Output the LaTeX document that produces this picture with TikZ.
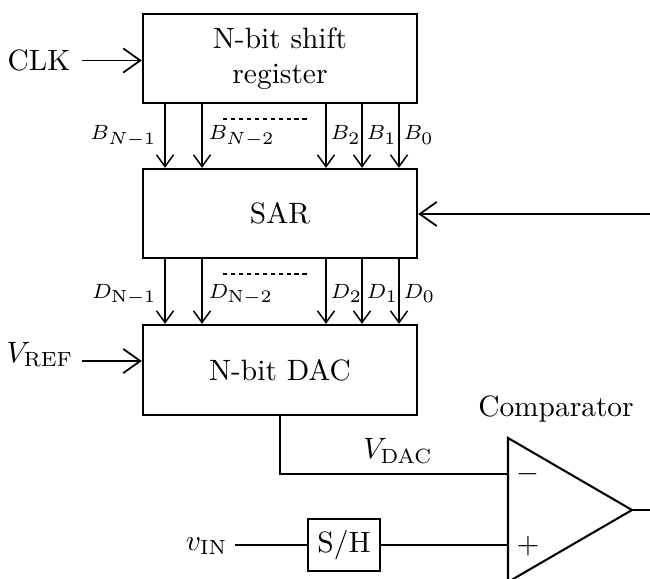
\documentclass[tikz,border=0pt]{standalone}
\usetikzlibrary{arrows.meta}
\DeclareMathSizes{7}{7}{6}{5}
\begin{document}
\begin{tikzpicture}[x=0.34pt,y=-0.34pt,
  blk/.style={draw, line width=0.8pt, inner sep=0pt, align=center},
  wire/.style={line width=0.4pt},
  bigarr/.style={wire, -{Straight Barb[length=5.8pt,width=8.2pt,line width=0.6pt]}},
  bitarr/.style={wire, -{Straight Barb[length=4pt,width=5.8pt,line width=0.5pt]}},
  lbl/.style={font=\scriptsize, inner sep=1pt},
  dots/.style={line width=0.4pt, dash pattern=on 1.4pt off 1.3pt}]
\useasboundingbox (0,0) rectangle (650,579);
% blocks
\node[blk, minimum width={274*0.34pt}, minimum height={89*0.34pt}] (sr) at (280,58.5) {N-bit shift\\register};
\node[blk, minimum width={274*0.34pt}, minimum height={89*0.34pt}] (sar) at (280,213.5) {SAR};
\node[blk, minimum width={274*0.34pt}, minimum height={90*0.34pt}] (dac) at (280,370) {N-bit DAC};
\node[blk, minimum width={72*0.34pt}, minimum height={52*0.34pt}] (sh) at (344,545) {S/H};
% inputs
\node[inner sep=0pt] (clk) at (39,60.5) {CLK};
\coordinate (clkend) at (82,60.5);
\draw[bigarr] (clkend) -- (clkend -| sr.west);
\node[inner sep=0pt, anchor=base east] (vref) at (74,362) {$V_{\mathrm{REF}}$};
\coordinate (vrefend) at (82,361);
\draw[bigarr] (vrefend) -- (vrefend -| dac.west);
\coordinate (sarin) at (650,214);
\draw[bigarr] (sarin) -- (sarin -| sar.east);
% bit columns
\coordinate (c1) at (165,0);
\coordinate (c2) at (202,0);
\coordinate (c3) at (326,0);
\coordinate (c4) at (362,0);
\coordinate (c5) at (399,0);
\foreach \c in {c1,c2,c3,c4,c5}{
  \draw[bitarr] (sr.south -| \c) -- (sar.north -| \c);
  \draw[bitarr] (sar.south -| \c) -- (dac.north -| \c);
}
\coordinate (bd1) at (223,119);
\coordinate (bd2) at (310,119);
\draw[dots] (bd1) -- (bd2);
\coordinate (dd1) at (223,274);
\coordinate (dd2) at (310,274);
\draw[dots] (dd1) -- (dd2);
\node[lbl, anchor=base east] (b1) at (160,140) {$B_{N-1}$};
\node[lbl, anchor=base west] (b2) at (205,140) {$B_{N-2}$};
\node[lbl, anchor=base west] (b3) at (327,140) {$B_2$};
\node[lbl, anchor=base west] (b4) at (363,140) {$B_1$};
\node[lbl, anchor=base west] (b5) at (400,140) {$B_0$};
\node[lbl, anchor=base east] (d1) at (160,298) {$D_{\mathrm{N-1}}$};
\node[lbl, anchor=base west] (d2) at (205,298) {$D_{\mathrm{N-2}}$};
\node[lbl, anchor=base west] (d3) at (327,298) {$D_2$};
\node[lbl, anchor=base west] (d4) at (363,298) {$D_1$};
\node[lbl, anchor=base west] (d5) at (400,298) {$D_0$};
% comparator
\coordinate (ctop) at (508,438);
\coordinate (cbot) at (508,582);
\coordinate (ct) at (632,510);
\coordinate (cm) at (508,474);
\coordinate (cp) at (508,545);
\draw[line width=0.7pt, line join=miter] (ctop) -- (ct) -- (cbot) -- cycle;
\node[inner sep=0pt] (minus) at (528,474) {$-$};
\node[inner sep=0pt] (plus) at (528,546) {$+$};
\node[inner sep=0pt] (cmplbl) at (556,409) {Comparator};
\coordinate (out) at (650,510);
\draw[wire] (ct) -- (out);
% DAC to comparator
\draw[wire] (dac.south) -- (dac.south |- cm) -- (cm);
\node[inner sep=0pt] (vdac) at (398,451) {$V_{\mathrm{DAC}}$};
% input
\node[inner sep=0pt, anchor=base east] (vin) at (228,550) {$v_{\mathrm{IN}}$};
\coordinate (vinend) at (235,545);
\draw[wire] (vinend) -- (sh.west);
\draw[wire] (sh.east) -- (cp);
\end{tikzpicture}
\end{document}
